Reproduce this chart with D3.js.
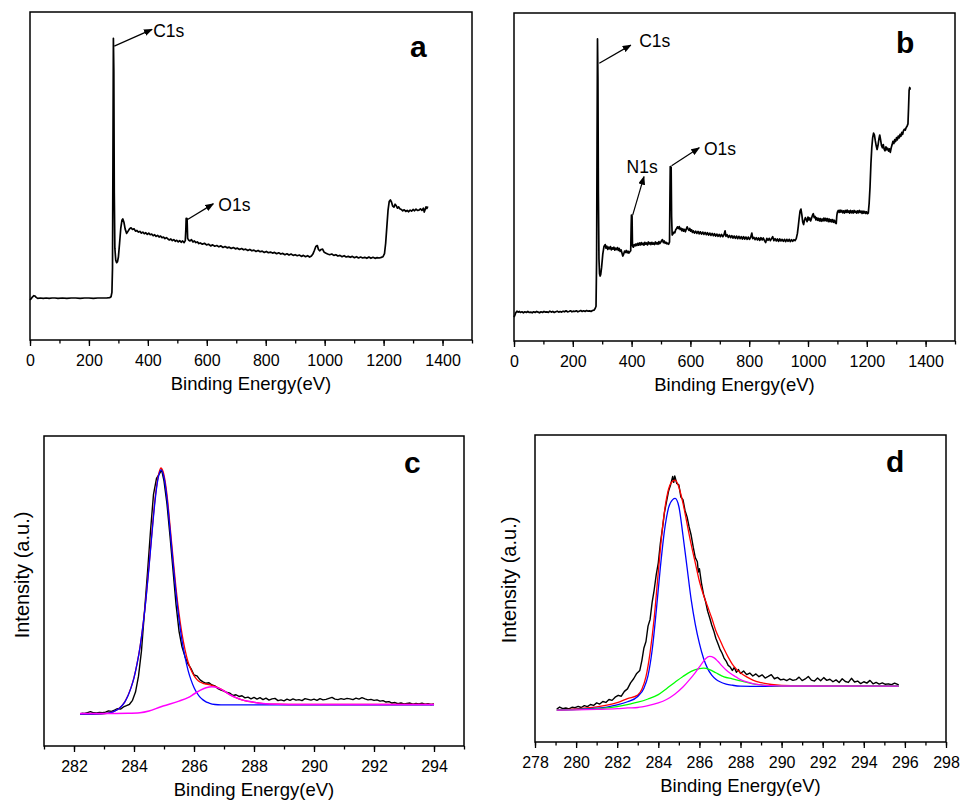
<!DOCTYPE html>
<html>
<head>
<meta charset="utf-8">
<script src="https://cdn.jsdelivr.net/npm/d3@7"></script>
<style>
  body { margin: 0; background: #fff; }
  svg { display: block; font-family: Arial, "Liberation Sans", sans-serif; }
</style>
</head>
<body>
<svg id="chart" width="960" height="805"></svg>
<script>
// ---- survey spectra (binding energy eV, intensity a.u.) ----
const surveyA = [
  [0,12.2],[4,12.6],[8,13.1],[13,13.5],[17,13.4],[21,13.0],[26,12.7],[35,12.8],[45,12.7],[55,12.8],[65,12.7],[75,12.8],
  [85,12.8],[95,12.7],[110,12.8],[125,12.7],[140,12.8],[155,12.8],[170,12.7],[185,12.8],[200,12.8],[215,12.7],[230,12.8],
  [245,12.8],[260,12.8],[270,12.9],[275,13.2],[278,14.5],[280,22],[281.5,55],[283,92],[284.5,82],[286,45],[288,28],
  [291,24.3],[294,23.6],[297,23.9],[300,25.3],[304,29.5],[308,34.0],[312,36.5],[315,36.9],[319,35.8],[323,33.8],[328,32.5],
  [333,33.2],[338,33.9],[343,34.2],[348,33.7],[353,33.9],[358,33.2],[363,33.4],[368,32.9],[373,33.1],[378,32.6],[383,32.9],
  [388,32.4],[393,32.7],[398,32.2],[403,32.6],[408,32.1],[413,32.3],[418,31.8],[423,32.1],[428,31.6],[433,31.9],[438,31.4],
  [443,31.7],[448,31.2],[453,31.4],[458,30.9],[463,31.2],[468,30.8],[473,30.5],[478,30.8],[483,30.3],[488,30.6],[493,30.1],
  [498,30.4],[503,29.9],[508,30.3],[513,29.8],[518,30.2],[523,29.7],[527,30.3],[529,34],[530,37.1],[533,37.0],[535,31],
  [538,30.5],[543,30.2],[548,30.6],[553,29.9],[558,30.2],[563,29.7],[568,29.9],[573,29.4],[578,29.6],[585,29.2],[592,29.5],
  [599,29.0],[606,29.2],[613,28.7],[620,29.0],[627,28.6],[634,28.8],[641,28.4],[648,28.7],[655,28.2],[662,28.5],[669,28.1],
  [676,28.3],[683,27.9],[690,28.2],[697,27.8],[704,28.0],[711,27.6],[718,27.9],[725,27.5],[732,27.7],[739,27.3],[746,27.6],
  [753,27.2],[760,27.4],[767,27.0],[774,27.3],[781,26.9],[788,27.1],[795,26.7],[802,27.0],[809,26.6],[816,26.8],[823,26.5],
  [830,26.7],[837,26.3],[844,26.6],[851,26.2],[858,26.4],[865,26.0],[872,26.3],[879,25.9],[886,26.2],[893,25.8],[900,26.0],
  [907,25.7],[914,25.9],[921,25.5],[928,25.8],[935,25.4],[942,25.7],[949,25.3],[955,25.6],[960,26.2],[965,27.3],[970,28.5],
  [975,28.8],[979,27.6],[983,27.2],[988,27.6],[993,27.7],[998,26.8],[1003,26.5],[1010,26.2],[1017,26.0],[1024,26.2],
  [1031,25.8],[1038,26.0],[1045,25.6],[1052,25.8],[1059,25.4],[1066,25.7],[1073,25.3],[1080,25.5],[1087,25.2],[1094,25.5],
  [1101,25.1],[1108,25.4],[1115,25.0],[1122,25.3],[1129,25.0],[1136,25.2],[1143,24.9],[1150,25.3],[1157,24.9],[1164,25.2],
  [1171,24.9],[1178,25.1],[1185,25.0],[1192,25.2],[1198,25.4],[1203,26.3],[1207,29.5],[1211,34.5],[1215,39.5],[1219,42.2],
  [1223,42.7],[1227,42.0],[1231,40.8],[1235,40.5],[1239,41.4],[1243,40.9],[1247,40.2],[1251,40.6],[1255,40.0],[1260,39.8],
  [1265,39.4],[1270,39.7],[1275,39.2],[1280,39.5],[1285,39.1],[1290,39.6],[1295,39.3],[1300,39.8],[1305,39.4],[1310,39.9],
  [1315,39.5],[1320,39.6],[1325,40.0],[1330,39.5],[1335,40.2],[1338,39.0],[1341,39.8],[1344,40.6],[1347,40.1],[1350,40.7]
]

const surveyB = [
  [0,7.3],[3,7.9],[6,8.6],[10,9.1],[14,8.8],[18,9.0],[22,8.7],[27,8.9],[32,8.6],[37,8.9],[42,8.7],[47,9.0],[52,8.7],
  [57,8.8],[62,8.6],[67,8.9],[72,8.7],[77,9.0],[82,8.8],[87,8.6],[92,8.9],[97,8.7],[102,9.0],[107,8.8],[112,8.9],[117,8.7],
  [122,9.1],[127,8.8],[132,9.0],[137,8.7],[142,8.9],[147,9.1],[152,8.8],[157,9.0],[162,8.8],[167,9.1],[172,8.9],[177,9.2],
  [182,8.9],[187,9.0],[192,9.2],[197,8.9],[202,9.1],[207,9.0],[212,9.2],[217,8.9],[222,9.1],[227,9.3],[232,9.0],[237,9.2],
  [242,9.0],[247,9.3],[252,9.1],[257,9.2],[262,9.0],[267,9.3],[272,9.4],[276,9.9],[279,10.6],[281,25],[282.5,60],[284,92.1],
  [285.5,80],[287,45],[289,25],[291,20.5],[293,19.8],[295,20.3],[298,22.5],[302,26.5],[306,28.8],[310,29.4],[313,28.3],
  [316,28.9],[319,27.9],[322,28.6],[325,28.1],[328,28.8],[331,27.8],[334,28.4],[337,28.0],[340,28.6],[343,27.7],[346,28.3],
  [349,27.9],[352,28.5],[355,27.6],[358,28.2],[361,27.3],[364,27.8],[367,26.9],[370,25.9],[373,26.5],[376,27.4],[379,27.0],
  [382,27.6],[385,26.9],[388,27.4],[391,26.8],[394,27.2],[397,27.5],[398.5,35],[399.5,38.4],[401.5,38.2],[403,29.0],
  [406,28.6],[409,29.4],[412,29.0],[415,29.6],[418,29.1],[421,29.8],[424,29.2],[427,29.9],[430,29.3],[433,30.0],[436,29.4],
  [439,29.8],[442,29.2],[445,30.1],[448,29.5],[451,29.9],[454,29.3],[457,30.2],[460,29.6],[463,30.0],[466,29.4],[469,30.1],
  [472,29.5],[475,29.9],[478,29.4],[481,30.2],[484,29.6],[487,30.0],[490,29.5],[493,30.3],[496,29.7],[499,30.1],[502,30.6],
  [505,30.9],[508,30.0],[511,30.5],[514,29.8],[517,30.1],[520,29.6],[523,29.8],[526,29.5],[529,30.2],[530.5,45],[531.5,53.2],
  [534.5,53.0],[536,38],[538,32.3],[541,32.7],[544,33.2],[547,33.0],[550,33.9],[553,34.3],[556,34.8],[559,34.3],[562,34.9],
  [565,34.0],[568,34.4],[571,33.6],[574,34.2],[577,33.5],[580,34.0],[583,33.3],[586,34.1],[589,34.8],[592,34.2],[595,33.7],
  [598,34.3],[601,33.5],[604,33.9],[607,33.1],[610,33.6],[614,32.9],[618,33.5],[622,32.8],[626,33.4],[630,32.7],[634,33.3],
  [638,32.6],[642,33.2],[646,32.5],[650,33.1],[654,32.4],[658,33.0],[662,32.3],[666,32.9],[670,32.2],[674,32.8],[678,32.1],
  [682,32.7],[686,32.0],[690,32.6],[694,31.9],[698,32.5],[702,31.8],[706,32.5],[710,31.8],[714,32.3],[718,33.6],[721,31.9],
  [725,32.4],[729,31.6],[733,32.2],[737,31.5],[741,32.1],[745,31.4],[749,32.0],[753,31.3],[757,32.0],[761,31.2],[765,31.9],
  [769,31.2],[773,31.8],[777,31.1],[781,31.8],[785,31.1],[789,31.7],[793,31.0],[797,31.7],[801,31.0],[805,31.6],[809,32.9],
  [812,31.2],[816,31.6],[820,30.9],[824,31.5],[828,30.8],[832,31.4],[836,30.7],[840,31.5],[844,30.8],[848,31.4],[852,30.6],
  [856,30.0],[860,31.3],[864,30.7],[868,31.3],[872,30.6],[876,31.2],[880,31.8],[884,30.6],[888,31.2],[892,30.5],[896,31.1],
  [900,30.4],[904,31.1],[908,30.5],[912,31.0],[916,30.4],[920,31.0],[924,30.3],[928,31.0],[932,30.4],[936,31.0],[940,30.3],
  [944,30.9],[948,30.4],[952,30.9],[956,30.6],[960,31.2],[964,32.8],[967,35.0],[970,37.5],[973,39.6],[976,40.2],[979,38.5],
  [982,36.3],[985,35.5],[988,36.8],[991,37.6],[994,37.0],[997,36.4],[1000,37.8],[1003,36.9],[1006,37.5],[1009,36.6],
  [1012,37.4],[1015,38.3],[1018,38.8],[1021,37.6],[1024,38.0],[1027,36.9],[1030,37.6],[1033,36.8],[1036,37.4],[1039,36.6],
  [1042,37.3],[1045,36.5],[1048,37.2],[1051,36.6],[1054,37.5],[1057,36.7],[1060,37.4],[1063,36.6],[1066,37.3],[1069,36.4],
  [1072,37.2],[1075,36.4],[1078,37.0],[1081,36.3],[1084,37.0],[1087,36.2],[1090,36.8],[1093,36.0],[1096,35.8],[1098,38.2],
  [1100,39.3],[1103,39.8],[1106,39.2],[1109,39.9],[1112,39.3],[1115,39.8],[1118,39.1],[1121,39.7],[1124,39.0],[1127,39.8],
  [1130,39.2],[1133,39.9],[1136,39.2],[1139,39.7],[1142,39.0],[1145,39.8],[1148,39.1],[1151,39.7],[1154,39.0],[1157,39.8],
  [1160,39.2],[1163,39.6],[1166,39.0],[1169,39.7],[1172,39.1],[1175,39.8],[1178,39.2],[1181,39.6],[1184,38.9],[1187,39.6],
  [1190,39.0],[1193,39.5],[1196,38.9],[1199,39.4],[1202,38.8],[1205,39.0],[1208,42],[1211,47],[1214,54],[1217,59],[1220,62],
  [1223,63.4],[1226,62.8],[1229,61.0],[1232,59.5],[1235,58.4],[1238,59.6],[1241,61.5],[1244,62.8],[1247,61.3],[1250,59.6],
  [1253,58.9],[1256,59.9],[1259,58.5],[1262,58.0],[1265,59.2],[1268,58.3],[1271,58.8],[1274,57.9],[1277,58.6],[1280,57.5],
  [1283,58.9],[1286,59.8],[1289,60.9],[1292,60.2],[1295,61.4],[1298,60.8],[1301,62.0],[1304,61.3],[1307,62.5],[1310,61.9],
  [1313,63.0],[1316,62.4],[1319,63.6],[1322,63.0],[1325,64.2],[1328,64.6],[1331,64.3],[1334,65.1],[1337,65.5],[1340,66.2],
  [1342,71],[1344,76.5],[1346,77.3],[1348,76.6]
]

// ---- C1s high resolution, panel c ----
const cRaw = [
  [282.25,0.3],[282.35,0.2],[282.45,0.6],[282.55,1.0],[282.65,0.5],[282.75,0.4],[282.85,0.6],[282.95,0.5],[283.05,0.8],
  [283.15,1.3],[283.25,1.1],[283.35,1.6],[283.45,2.2],[283.55,2.0],[283.65,2.9],[283.75,3.4],[283.85,4.0],[283.95,5.6],
  [284.05,9.0],[284.15,15.5],[284.25,26],[284.35,42],[284.45,58],[284.55,75],[284.65,90],[284.75,96.5],[284.85,98.5],
  [284.92,100],[285.0,95.5],[285.1,86],[285.2,73],[285.3,59],[285.4,45],[285.5,34],[285.6,27.5],[285.7,23.5],[285.8,20.5],
  [285.9,18.6],[286.0,16.0],[286.1,15.6],[286.2,14.0],[286.3,13.2],[286.4,12.6],[286.5,12.8],[286.6,11.9],[286.7,11.5],
  [286.8,10.4],[286.9,9.8],[287.0,9.4],[287.1,8.8],[287.2,8.5],[287.3,7.6],[287.4,7.9],[287.5,7.2],[287.6,7.5],[287.7,6.6],
  [287.8,6.9],[287.9,6.2],[288.0,6.8],[288.1,6.1],[288.2,6.7],[288.3,5.9],[288.4,6.5],[288.5,5.7],[288.6,6.2],[288.7,6.4],
  [288.8,5.5],[288.9,5.8],[289.0,5.4],[289.1,6.1],[289.2,5.6],[289.3,6.2],[289.4,5.7],[289.5,5.9],[289.6,5.5],[289.7,6.3],
  [289.8,6.0],[289.9,5.7],[290.0,6.1],[290.1,5.6],[290.2,6.3],[290.3,5.8],[290.4,6.0],[290.5,6.4],[290.6,6.8],[290.7,6.1],
  [290.8,5.9],[290.9,6.3],[291.0,6.0],[291.1,6.4],[291.2,6.2],[291.3,5.9],[291.4,6.5],[291.5,6.1],[291.6,6.7],[291.7,6.2],
  [291.8,5.8],[291.9,6.0],[292.0,5.6],[292.1,5.8],[292.2,5.3],[292.3,5.5],[292.4,4.9],[292.5,5.1],[292.6,4.5],[292.7,4.7],
  [292.8,4.2],[292.9,4.5],[293.0,4.1],[293.1,4.3],[293.2,4.5],[293.3,4.0],[293.4,4.3],[293.5,4.1],[293.6,4.4],[293.7,4.0],
  [293.8,4.2],[293.9,3.9],[294.0,4.1]
]
const cSum = [
  [282.2,0],[282.9,0.1],[283.1,0.3],[283.3,0.9],[283.5,2.3],[283.7,5.1],[283.9,10.8],[284.0,14.9],[284.1,20.5],[284.2,27.4],
  [284.3,36.5],[284.4,47.5],[284.5,60.7],[284.6,74.8],[284.7,88.1],[284.8,97.0],[284.9,100.8],[285.0,97.9],[285.1,89.8],
  [285.2,77.3],[285.3,64.1],[285.4,51.6],[285.5,41.2],[285.6,32.8],[285.7,26.4],[285.8,21.4],[285.9,18.1],[286.0,15.7],
  [286.1,14.1],[286.2,13.1],[286.3,12.6],[286.4,12.3],[286.5,12.0],[286.6,11.7],[286.7,11.3],[286.8,10.8],[286.9,10.2],
  [287.0,9.5],[287.2,7.9],[287.4,6.7],[287.6,5.8],[287.8,5.2],[288.0,4.8],[288.3,4.3],[288.8,4.0],[289.5,3.9],[294.0,3.9]
]
const cPeak1 = [
  [282.2,0],[282.9,0.1],[283.1,0.3],[283.3,0.9],[283.4,1.5],[283.5,2.3],[283.6,3.4],[283.7,5.1],[283.8,7.5],[283.9,10.7],
  [284.0,14.8],[284.1,20.4],[284.2,27.3],[284.3,36.3],[284.4,47.2],[284.5,60.2],[284.6,74.1],[284.7,87.1],[284.8,96.3],
  [284.9,100],[285.0,96.9],[285.1,88.3],[285.2,75.8],[285.3,62.3],[285.4,49.6],[285.5,38.9],[285.6,30.1],[285.7,23.4],
  [285.8,18.0],[285.9,14.0],[286.0,10.9],[286.1,8.6],[286.2,6.9],[286.3,5.8],[286.4,5.0],[286.5,4.5],[286.7,3.9],
  [286.9,3.75],[287.5,3.75],[294.0,3.8]
]
const cPeak2 = [
  [282.2,0.2],[283.0,0.2],[283.8,0.3],[284.2,0.5],[284.5,1.2],[284.9,3.0],[285.2,4.1],[285.5,5.3],[285.8,6.7],[286.0,8.2],
  [286.2,9.7],[286.4,10.8],[286.6,11.2],[286.8,10.7],[287.0,9.5],[287.2,7.9],[287.4,6.7],[287.6,5.8],[287.8,5.2],[288.0,4.8],
  [288.3,4.3],[288.8,4.0],[289.5,3.9],[294.0,3.9]
]

// ---- C1s high resolution, panel d ----
const dRaw = [
  [279.06,0.4],[279.2,1.3],[279.35,0.6],[279.5,0.9],[279.65,0.5],[279.8,1.2],[279.95,1.0],[280.1,1.6],[280.25,1.1],
  [280.4,1.9],[280.55,1.5],[280.7,2.4],[280.85,2.0],[281.0,3.1],[281.15,2.6],[281.3,3.7],[281.45,3.3],[281.6,4.6],
  [281.75,4.2],[281.9,5.6],[282.05,6.4],[282.2,6.0],[282.35,8.1],[282.5,9.2],[282.65,11.8],[282.8,13.6],[282.95,15.9],
  [283.1,17.2],[283.2,21.5],[283.3,27.0],[283.4,29.8],[283.5,36.5],[283.6,39.4],[283.7,46.8],[283.8,52.3],[283.9,58.9],
  [284.0,64.0],[284.1,72.5],[284.2,78.8],[284.3,86.0],[284.4,90.6],[284.5,95.2],[284.6,98.0],[284.7,101.6],[284.75,99.0],
  [284.8,101.8],[284.9,98.5],[285.0,97.9],[285.1,92.6],[285.2,91.5],[285.3,86.8],[285.4,84.0],[285.5,79.6],[285.6,76.0],
  [285.7,70.8],[285.8,66.3],[285.9,64.5],[285.95,60.0],[286.0,61.5],[286.1,55.2],[286.2,50.4],[286.3,47.2],[286.4,43.0],
  [286.5,40.1],[286.6,37.0],[286.7,34.4],[286.8,31.2],[286.9,28.9],[287.0,26.5],[287.1,24.8],[287.2,22.6],[287.3,21.3],
  [287.4,19.4],[287.5,18.7],[287.6,17.2],[287.7,18.5],[287.8,16.4],[287.9,17.6],[288.0,15.9],[288.15,17.0],[288.3,15.4],
  [288.45,16.1],[288.6,14.8],[288.75,15.7],[288.9,14.5],[289.05,15.3],[289.2,13.9],[289.35,14.6],[289.5,15.4],[289.65,13.6],
  [289.8,14.2],[289.95,13.1],[290.1,13.4],[290.25,12.8],[290.4,13.6],[290.55,12.9],[290.7,13.2],[290.85,14.3],[291.0,12.8],
  [291.15,13.5],[291.3,14.6],[291.45,13.0],[291.6,12.6],[291.75,13.9],[291.9,12.7],[292.05,14.1],[292.2,12.9],[292.35,13.4],
  [292.5,12.3],[292.65,13.1],[292.8,12.0],[292.95,13.6],[293.1,12.4],[293.25,12.0],[293.4,13.8],[293.55,12.2],[293.7,12.6],
  [293.85,11.5],[294.0,12.3],[294.15,11.7],[294.3,12.9],[294.45,11.4],[294.6,12.0],[294.75,11.3],[294.9,11.8],[295.05,11.2],
  [295.2,11.4],[295.35,11.0],[295.5,11.7],[295.7,10.9]
]
const dSum = [
  [279.06,0.1],[279.5,0.2],[280.0,0.5],[280.5,0.9],[281.0,1.4],[281.5,2.1],[282.0,3.2],[282.5,5.0],[283.0,6.5],[283.2,9.0],
  [283.4,14.5],[283.6,25],[283.8,40],[284.0,60],[284.2,79],[284.4,92],[284.6,98.5],[284.82,100],[285.0,97],[285.2,90],
  [285.4,81],[285.6,72],[285.8,64],[286.0,56],[286.2,50],[286.4,45],[286.6,40],[286.8,34.5],[287.0,30.5],[287.2,26.5],
  [287.4,23],[287.6,20],[287.8,17.8],[288.0,16.2],[288.3,14.4],[288.6,13.0],[289.0,11.9],[289.5,11.1],[290.0,10.7],
  [291.0,10.5],[295.7,10.4]
]
const dPeak1 = [
  [279.06,0],[280.0,0.3],[281.0,0.8],[281.5,1.3],[282.0,2.2],[282.5,3.6],[283.0,5.9],[283.3,9.5],[283.5,15],[283.7,26],
  [283.9,43],[284.1,62],[284.3,78],[284.5,88],[284.7,91.5],[284.82,92],[285.0,88.5],[285.2,76],[285.4,62],[285.6,48],
  [285.8,37.3],[286.0,29],[286.2,22.5],[286.4,18],[286.6,15.2],[286.8,13.4],[287.0,12.3],[287.3,11.3],[287.6,10.8],
  [288.0,10.4],[289.0,10.3],[295.7,10.4]
]
const dPeak2 = [
  [279.06,0],[280.0,0.2],[281.0,0.5],[282.0,1.5],[282.5,2.4],[283.0,3.4],[283.5,4.8],[284.0,6.7],[284.4,9.3],[284.8,12.0],
  [285.2,14.6],[285.6,16.8],[286.0,18.0],[286.2,18.2],[286.5,17.6],[286.8,16.2],[287.2,14.4],[287.6,13.6],[288.0,12.7],
  [288.5,11.6],[289.0,10.9],[289.5,10.6],[290.0,10.45],[295.7,10.4]
]
const dPeak3 = [
  [279.06,0],[280.0,0.1],[281.0,0.3],[282.0,0.6],[282.5,0.9],[283.0,1.1],[283.5,1.9],[284.0,3.1],[284.4,4.6],[284.8,6.9],
  [285.2,10.0],[285.5,13.0],[285.8,16.3],[286.1,20.0],[286.3,22.3],[286.5,23.3],[286.7,22.8],[286.9,21.2],[287.1,19.2],
  [287.3,17.4],[287.5,16.0],[287.8,14.3],[288.0,13.2],[288.3,12.2],[288.6,11.5],[289.0,10.9],[289.5,10.6],[290.0,10.45],
  [295.7,10.4]
]

// ---- axis ticks ----
const surveyTicks = [0, 200, 400, 600, 800, 1000, 1200, 1400]
const surveyMinor = d3.range(0, 1501, 100)
const cTicks = [282, 284, 286, 288, 290, 292, 294]
const cMinor = d3.range(281, 296, 1)
const dTicks = [278, 280, 282, 284, 286, 288, 290, 292, 294, 296, 298]
const dMinor = d3.range(278, 299, 1)

// peak labels: arrow tail, arrow head, text position (eV, intensity)
const annotA = [
  { label: 'C1s', from: [286, 89.6], to: [414, 94.7], text: [418, 92.3] },
  { label: 'O1s', from: [532, 36.6], to: [622, 41.5], text: [639, 39.4] }
]
const annotB = [
  { label: 'C1s', from: [290, 84.7], to: [397, 90.2], text: [426, 89.7] },
  { label: 'N1s', from: [403.7, 38.4], to: [442, 50.1], text: [383, 51.1] },
  { label: 'O1s', from: [536, 53.4], to: [630, 58.9], text: [646, 56.7] }
]

const svg = d3.select('#chart')

svg.append('defs').append('marker')
  .attr('id', 'arrowhead')
  .attr('markerUnits', 'userSpaceOnUse')
  .attr('markerWidth', 9).attr('markerHeight', 7)
  .attr('refX', 8).attr('refY', 3.5)
  .attr('orient', 'auto')
  .append('path')
  .attr('d', 'M0,0 L9,3.5 L0,7 Z')
  .attr('fill', '#000')

function drawPanel(p) {
  const x = d3.scaleLinear().domain(p.xDomain).range([p.left, p.right])
  const y = d3.scaleLinear().domain(p.yDomain).range([p.bottom, p.top])
  const g = svg.append('g')

  p.series.forEach(s => {
    const line = d3.line()
      .x(d => x(d[0]))
      .y(d => y(d[1]))
      .curve(s.smooth ? d3.curveMonotoneX : d3.curveLinear)
    g.append('path')
      .datum(s.data)
      .attr('fill', 'none')
      .attr('stroke', s.color)
      .attr('stroke-width', s.width)
      .attr('stroke-linejoin', 'round')
      .attr('d', line)
  })

  // frame
  g.append('rect')
    .attr('x', p.left).attr('y', p.top)
    .attr('width', p.right - p.left).attr('height', p.bottom - p.top)
    .attr('fill', 'none').attr('stroke', '#000').attr('stroke-width', 1.5)

  // ticks
  const minorAxis = g.append('g')
    .attr('transform', `translate(0,${p.bottom})`)
    .call(d3.axisBottom(x).tickValues(p.minor).tickSize(3.5).tickFormat(''))
  minorAxis.select('.domain').remove()
  minorAxis.selectAll('line').attr('stroke-width', 1.3)

  const majorAxis = g.append('g')
    .attr('transform', `translate(0,${p.bottom})`)
    .call(d3.axisBottom(x).tickValues(p.ticks).tickSize(6).tickPadding(9).tickFormat(d3.format('d')))
  majorAxis.select('.domain').remove()
  majorAxis.selectAll('line').attr('stroke-width', 1.3)
  majorAxis.attr('font-family', 'Arial, "Liberation Sans", sans-serif').attr('font-size', 16)
  majorAxis.selectAll('text').attr('fill', '#000')

  g.append('text')
    .attr('x', (p.left + p.right) / 2)
    .attr('y', p.bottom + 50)
    .attr('text-anchor', 'middle')
    .attr('font-size', 18.5)
    .text('Binding Energy(eV)')

  if (p.yLabel) {
    g.append('text')
      .attr('transform', `translate(${p.yLabel.x},${p.yLabel.y}) rotate(-90)`)
      .attr('text-anchor', 'middle')
      .attr('font-size', 20)
      .text('Intensity (a.u.)')
  }

  // panel letter
  g.append('text')
    .attr('x', p.letter.x).attr('y', p.letter.y)
    .attr('font-size', 30).attr('font-weight', 'bold')
    .text(p.letter.text)

  ;(p.annot || []).forEach(a => {
    g.append('line')
      .attr('x1', x(a.from[0])).attr('y1', y(a.from[1]))
      .attr('x2', x(a.to[0])).attr('y2', y(a.to[1]))
      .attr('stroke', '#000').attr('stroke-width', 1.2)
      .attr('marker-end', 'url(#arrowhead)')
    g.append('text')
      .attr('x', x(a.text[0])).attr('y', y(a.text[1]))
      .attr('font-size', 17.5)
      .text(a.label)
  })
}

drawPanel({
  left: 30, right: 472, top: 12, bottom: 340,
  xDomain: [0, 1500], yDomain: [0, 100],
  ticks: surveyTicks, minor: surveyMinor,
  series: [{ data: surveyA, color: '#000', width: 1.7 }],
  annot: annotA,
  letter: { text: 'a', x: 410, y: 57 }
})

drawPanel({
  left: 514, right: 955, top: 13, bottom: 341,
  xDomain: [0, 1500], yDomain: [0, 100],
  ticks: surveyTicks, minor: surveyMinor,
  series: [{ data: surveyB, color: '#000', width: 1.7 }],
  annot: annotB,
  letter: { text: 'b', x: 896, y: 53 }
})

drawPanel({
  left: 44, right: 464, top: 436, bottom: 746,
  xDomain: [281, 295], yDomain: [-13.1, 113.9],
  ticks: cTicks, minor: cMinor,
  series: [
    { data: cRaw, color: '#000', width: 1.4 },
    { data: cSum, color: '#ff0000', width: 1.3, smooth: true },
    { data: cPeak1, color: '#0000ff', width: 1.3, smooth: true },
    { data: cPeak2, color: '#ff00ff', width: 1.5, smooth: true }
  ],
  yLabel: { x: 29, y: 575 },
  letter: { text: 'c', x: 404, y: 473 }
})

drawPanel({
  left: 535, right: 946, top: 435, bottom: 742,
  xDomain: [278, 298], yDomain: [-13.9, 119.6],
  ticks: dTicks, minor: dMinor,
  series: [
    { data: dRaw, color: '#000', width: 1.4 },
    { data: dSum, color: '#ff0000', width: 1.3, smooth: true },
    { data: dPeak1, color: '#0000ff', width: 1.3, smooth: true },
    { data: dPeak2, color: '#00ff00', width: 1.3, smooth: true },
    { data: dPeak3, color: '#ff00ff', width: 1.3, smooth: true }
  ],
  yLabel: { x: 516, y: 580 },
  letter: { text: 'd', x: 886, y: 472 }
})
</script>
</body>
</html>
